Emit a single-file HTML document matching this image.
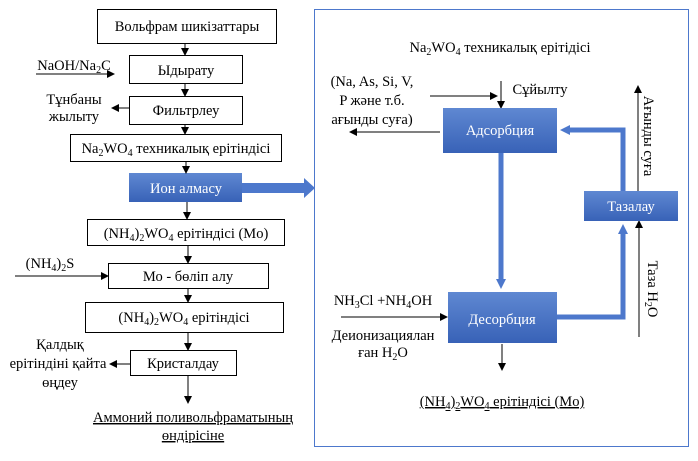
<!DOCTYPE html>
<html><head><meta charset="utf-8"><style>
html,body{margin:0;padding:0;background:#fff;}
svg{display:block;font-family:"Liberation Serif",serif;font-size:14.5px;}
</style></head><body>
<svg width="698" height="461" viewBox="0 0 698 461" xmlns="http://www.w3.org/2000/svg">
<defs>
<linearGradient id="g" x1="0" y1="0" x2="0" y2="1"><stop offset="0" stop-color="#5f88d2"/><stop offset="1" stop-color="#3862b7"/></linearGradient>
<marker id="a" markerWidth="8" markerHeight="8" refX="7" refY="4" orient="auto" markerUnits="userSpaceOnUse"><path d="M0,0 L8,4 L0,8 z" fill="#000"/></marker>
<marker id="b" markerWidth="10" markerHeight="10" refX="5" refY="5" orient="auto" markerUnits="userSpaceOnUse"><path d="M0,0 L10,5 L0,10 z" fill="#4d78cc"/></marker>
</defs>
<g fill="none" stroke="#000" stroke-width="1">
<rect x="97.5" y="9.5" width="179" height="34"/>
<rect x="129.5" y="55.5" width="113" height="28"/>
<rect x="129.5" y="96.5" width="113" height="28"/>
<rect x="70.5" y="134.5" width="211" height="27"/>
<rect x="87.5" y="219.5" width="197" height="26"/>
<rect x="108.5" y="263.5" width="160" height="25"/>
<rect x="85.5" y="302.5" width="198" height="30"/>
<rect x="130.5" y="350.5" width="106" height="25"/>
</g>
<rect x="129" y="173" width="113" height="29" fill="url(#g)"/>
<g stroke="#000" stroke-width="1" marker-end="url(#a)">
<line x1="185" y1="43" x2="185" y2="55"/>
<line x1="185" y1="84" x2="185" y2="96"/>
<line x1="185" y1="125" x2="185" y2="134"/>
<line x1="186" y1="162" x2="186" y2="173"/>
<line x1="187" y1="202" x2="187" y2="219"/>
<line x1="188" y1="246" x2="188" y2="263"/>
<line x1="188" y1="289" x2="188" y2="302"/>
<line x1="188" y1="333" x2="188" y2="350"/>
<line x1="188" y1="376" x2="188" y2="403"/>
<line x1="36" y1="74" x2="114" y2="74"/>
<line x1="129" y1="108" x2="112" y2="108"/>
<line x1="15" y1="276" x2="108" y2="276"/>
<line x1="130" y1="364" x2="110" y2="364"/>
<line x1="501" y1="81" x2="501" y2="108"/>
<line x1="430" y1="96" x2="497" y2="96"/>
<line x1="440" y1="132" x2="350" y2="132"/>
<line x1="638" y1="191" x2="638" y2="86"/>
<line x1="639" y1="337" x2="639" y2="221"/>
<line x1="341" y1="317" x2="447" y2="317"/>
<line x1="502" y1="344" x2="502" y2="370"/>
</g>
<path d="M242,183 L304,183 L304,178 L315,188 L304,198 L304,193 L242,193 z" fill="#4d78cc"/>
<rect x="314.5" y="9.5" width="374" height="437" fill="none" stroke="#4d78cc" stroke-width="1"/>
<g fill="none" stroke="#4d78cc" stroke-width="5">
<line x1="501" y1="153" x2="501" y2="284" marker-end="url(#b)"/>
<polyline points="557,317 623,317 623,229" marker-end="url(#b)"/>
<polyline points="623,191 623,130 565,130" marker-end="url(#b)"/>
</g>
<rect x="443" y="108" width="114" height="45" fill="url(#g)"/>
<rect x="448" y="292" width="109" height="51" fill="url(#g)"/>
<rect x="584" y="191" width="94" height="30" fill="url(#g)"/>
<g fill="#000" text-anchor="middle">
<text x="187" y="31">Вольфрам шикізаттары</text>
<text x="186" y="75">Ыдырату</text>
<text x="186" y="115">Фильтрлеу</text>
<text x="176" y="153">Na<tspan font-size="10" dy="3">2</tspan><tspan dy="-3">WO</tspan><tspan font-size="10" dy="3">4</tspan><tspan dy="-3"> техникалық ерітіндісі</tspan></text>
<text x="186" y="193" fill="#fff">Ион алмасу</text>
<text x="186" y="238">(NH<tspan font-size="10" dy="3">4</tspan><tspan dy="-3">)</tspan><tspan font-size="10" dy="3">2</tspan><tspan dy="-3">WO</tspan><tspan font-size="10" dy="3">4</tspan><tspan dy="-3"> ерітіндісі (Mo)</tspan></text>
<text x="188" y="281">Мо - бөліп алу</text>
<text x="184" y="322">(NH<tspan font-size="10" dy="3">4</tspan><tspan dy="-3">)</tspan><tspan font-size="10" dy="3">2</tspan><tspan dy="-3">WO</tspan><tspan font-size="10" dy="3">4</tspan><tspan dy="-3"> ерітіндісі</tspan></text>
<text x="183" y="368">Кристалдау</text>
<text x="74" y="70">NaOH/Na<tspan font-size="10" dy="3">2</tspan><tspan dy="-3">C</tspan></text>
<text x="74" y="104">Тұнбаны</text>
<text x="74" y="121">жылыту</text>
<text x="50" y="268">(NH<tspan font-size="10" dy="3">4</tspan><tspan dy="-3">)</tspan><tspan font-size="10" dy="3">2</tspan><tspan dy="-3">S</tspan></text>
<text x="60" y="349">Қалдық</text>
<text x="58" y="368">ерітіндіні қайта</text>
<text x="60" y="387">өңдеу</text>
<text x="193" y="422" text-decoration="underline">Аммоний поливольфраматының</text>
<text x="193" y="440" text-decoration="underline">өндірісіне</text>
<text x="500" y="52">Na<tspan font-size="10" dy="3">2</tspan><tspan dy="-3">WO</tspan><tspan font-size="10" dy="3">4</tspan><tspan dy="-3"> техникалық ерітідісі</tspan></text>
<text x="372" y="86">(Na, As, Si, V,</text>
<text x="372" y="105">P және т.б.</text>
<text x="372" y="124">ағынды суға)</text>
<text x="540" y="94">Сұйылту</text>
<text x="500" y="135" fill="#fff">Адсорбция</text>
<text x="502" y="324" fill="#fff">Десорбция</text>
<text x="631" y="211" fill="#fff">Тазалау</text>
<text x="383" y="305">NH<tspan font-size="10" dy="3">3</tspan><tspan dy="-3">Cl +NH</tspan><tspan font-size="10" dy="3">4</tspan><tspan dy="-3">OH</tspan></text>
<text x="383" y="340">Деионизациялан</text>
<text x="383" y="357">ған H<tspan font-size="10" dy="3">2</tspan><tspan dy="-3">O</tspan></text>
<text x="502" y="406" text-decoration="underline">(NH<tspan font-size="10" dy="3">4</tspan><tspan dy="-3">)</tspan><tspan font-size="10" dy="3">2</tspan><tspan dy="-3">WO</tspan><tspan font-size="10" dy="3">4</tspan><tspan dy="-3"> ерітіндісі (Mo)</tspan></text>
<text transform="translate(644,136) rotate(90)">Ағынды суға</text>
<text transform="translate(648,289) rotate(90)">Таза H<tspan font-size="10" dy="3">2</tspan><tspan dy="-3">O</tspan></text>
</g>
</svg>
</body></html>
